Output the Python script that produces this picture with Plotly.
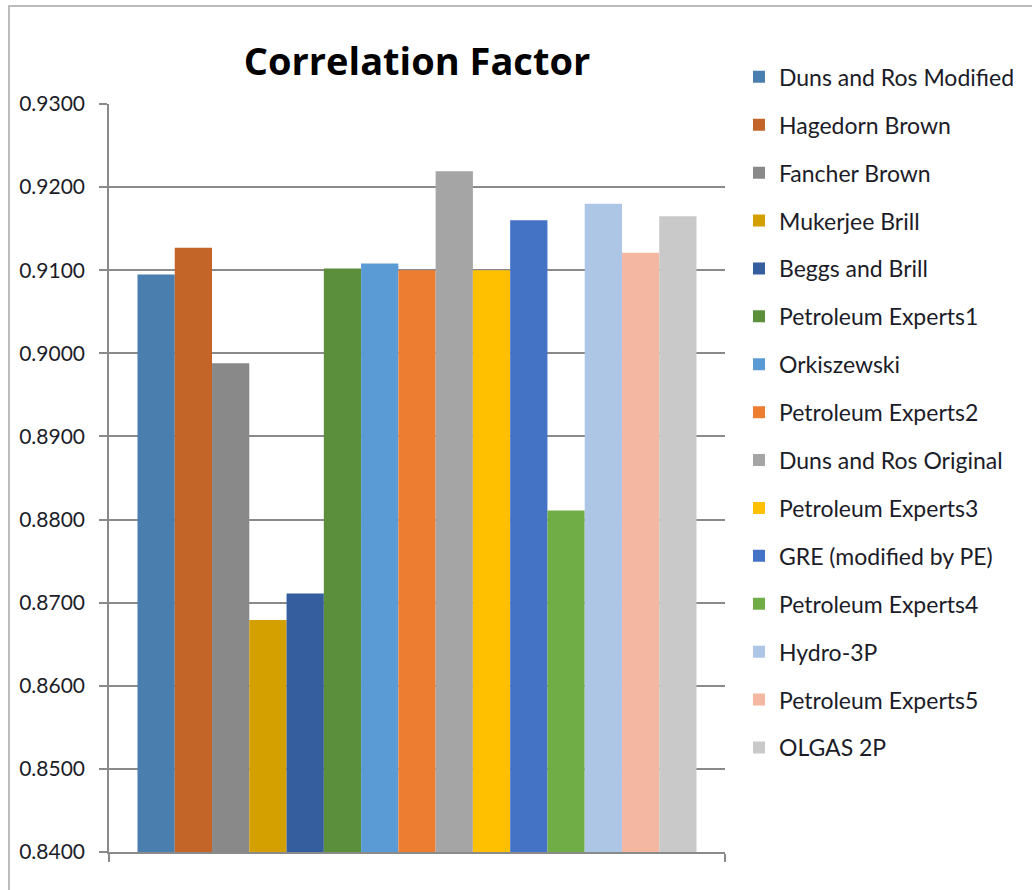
import plotly.graph_objects as go

# Correlation factor for each multiphase-flow correlation
methods = [
    "Duns and Ros Modified", "Hagedorn Brown", "Fancher Brown", "Mukerjee Brill",
    "Beggs and Brill", "Petroleum Experts1", "Orkiszewski", "Petroleum Experts2",
    "Duns and Ros Original", "Petroleum Experts3", "GRE (modified by PE)",
    "Petroleum Experts4", "Hydro-3P", "Petroleum Experts5", "OLGAS 2P",
]
factors = [
    0.9095, 0.9127, 0.8988, 0.8679, 0.8711, 0.9102, 0.9108, 0.9100,
    0.9219, 0.9100, 0.9160, 0.8811, 0.9180, 0.9121, 0.9165,
]
colors = [
    "#4A7EAF", "#C36428", "#898989", "#D4A000", "#355E9F", "#5B8F3B",
    "#5B9BD5", "#ED7D31", "#A5A5A5", "#FFC000", "#4472C4", "#70AD47",
    "#ADC6E5", "#F3B7A2", "#C9C9C9",
]
y_ticks = [0.84, 0.85, 0.86, 0.87, 0.88, 0.89, 0.90, 0.91, 0.92, 0.93]

FONT = "Lato"
TEXT = "#1c1c28"
GRID = "#8a8a8a"

fig = go.Figure()
for name, val, col in zip(methods, factors, colors):
    fig.add_trace(go.Bar(
        x=[""], y=[val], name=name, legendgroup=name,
        marker=dict(color=col, line=dict(width=0)),
        hoverinfo="skip",
    ))

# outer chart frame
fig.add_shape(type="rect", xref="paper", yref="paper",
              x0=-0.1623, x1=1.6, y0=-0.2, y1=1.131,
              line=dict(color="#a6a6a6", width=1.5), layer="below")

fig.update_layout(
    width=1032, height=890,
    margin=dict(l=109, r=307, t=104, b=38),
    paper_bgcolor="white", plot_bgcolor="white",
    barmode="group", bargap=0.0925, bargroupgap=0,
    font=dict(family=FONT, color=TEXT),
    title=dict(text="<b>Correlation Factor</b>", x=0.5, xref="paper",
               y=1 - 62 / 890, yref="container", xanchor="center", yanchor="middle",
               font=dict(family="Open Sans", size=38, color="#000000")),
    showlegend=True,
    legend=dict(x=1.0227, xanchor="left", y=1.065, yanchor="top",
                font=dict(family=FONT, size=23, color=TEXT),
                tracegroupgap=15, traceorder="grouped", maxheight=880,
                bgcolor="rgba(0,0,0,0)"),
    xaxis=dict(type="category", showticklabels=False, showgrid=False,
               showline=True, linecolor=GRID, linewidth=1.5,
               ticks="outside", tickson="boundaries", ticklen=8,
               tickcolor=GRID, tickwidth=1.5, zeroline=False, fixedrange=True),
    yaxis=dict(range=[0.84, 0.93], tickvals=y_ticks, tickformat=".4f",
               showgrid=True, gridcolor=GRID, gridwidth=1.5,
               showline=True, linecolor=GRID, linewidth=1.5,
               ticks="outside", ticklen=8, tickcolor=GRID, tickwidth=1.5,
               ticklabelstandoff=10,
               tickfont=dict(family=FONT, size=21, color=TEXT),
               zeroline=False, fixedrange=True),
)

fig.write_html("out.html")
